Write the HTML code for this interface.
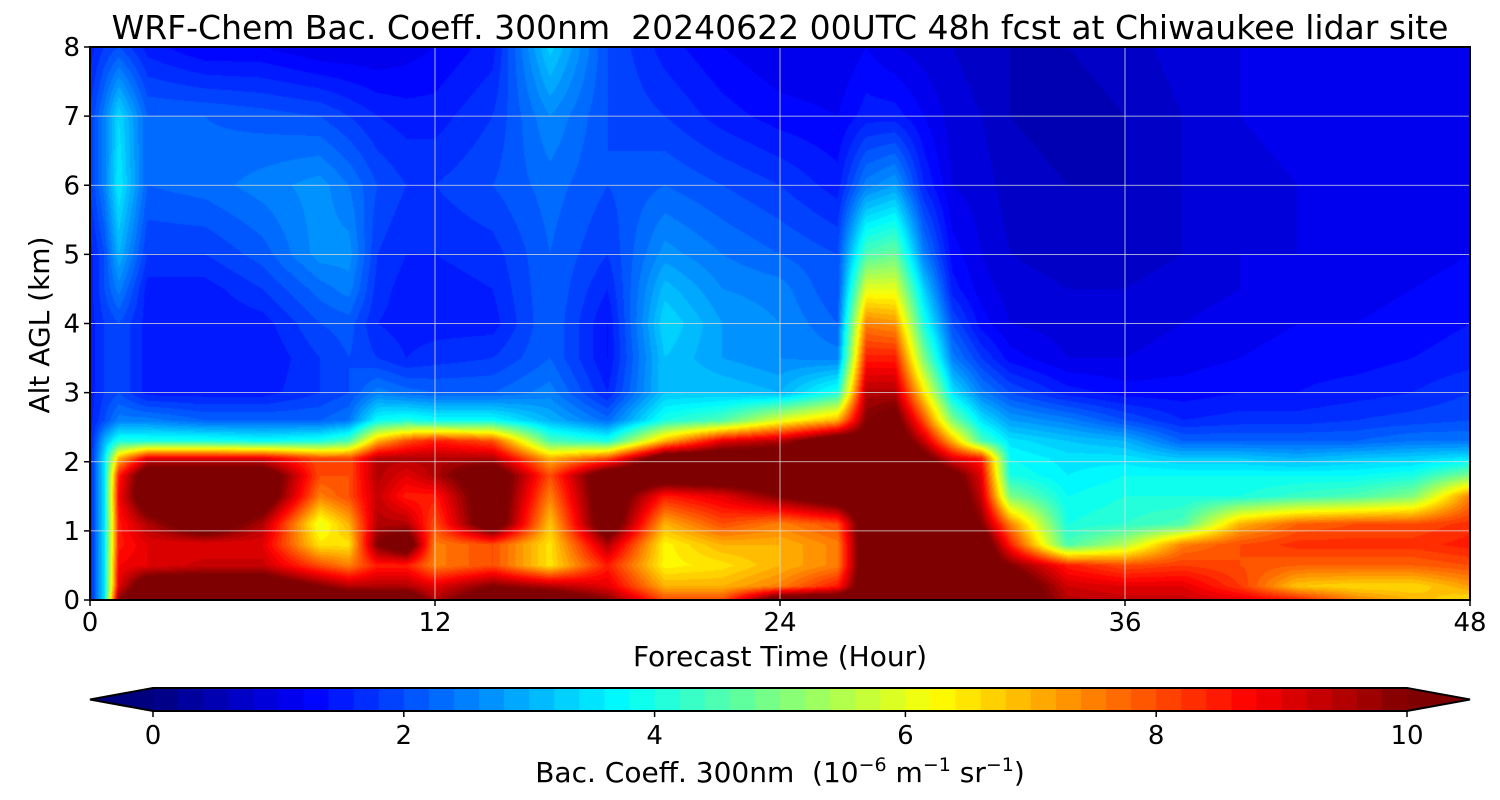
<!DOCTYPE html>
<html><head><meta charset="utf-8">
<style>
body{margin:0;background:#fff;width:1500px;height:800px;overflow:hidden;font-family:"DejaVu Sans","Liberation Sans",sans-serif;}
#wrap{position:relative;width:1500px;height:800px;}
canvas{position:absolute;}
svg{position:absolute;left:0;top:0;font-family:"DejaVu Sans","Liberation Sans",sans-serif;}
text{white-space:pre;}
</style></head><body>
<div id="wrap">
<canvas id="plot" width="1380" height="553" style="left:90px;top:47px"></canvas>
<svg id="ov" width="1500" height="800"></svg>
</div>
<script>
const times=[0,0.5,1,2,4,6,8,9,10,11,12,14,16,18,20,22,24,26,27,28,29,30,31,32,34,36,38,40,42,44,46,48];
const alts=[0,0.2,0.5,0.8,1.1,1.5,1.8,2.05,2.3,2.6,3,3.5,4,4.5,5,6,7,8];
const values=[
[1.5,1.5,1.5,1.5,1.5,1.5,1.5,1.5,1.5,1.5,1.5,1.5,1.5,1.5,1.5,1.8,1.8,1.5],
[3.5,3.5,3.5,3.5,3.5,3.5,3.5,3.5,3,2,1.8,1.8,1.8,2,2,2.5,2.5,1.8],
[10,9,8.8,8.5,8.5,8.8,8.5,7,4,2.5,2,2,2,2.5,3,3.6,3.4,2],
[11,11,9,9,9.5,11,11,9,4,2.5,1.5,1.5,1.5,1.5,1.8,2.2,2.2,1.5],
[11,11,9.3,9,11,11,11,9,4,2.2,1.5,1.4,1.4,1.5,1.8,2.3,2.2,1.2],
[11,11,9.3,9,9.5,11,11,9,3.8,2.2,1.5,1.4,1.5,1.8,2.1,2.5,2.1,1.2],
[11,10,8,6.5,6,7.5,8,8,4,2.2,1.8,1.8,2,2.3,2.7,2.7,2,1],
[11,9.5,7.5,6.5,7,8,8,8,4.5,2.4,2,2,2.1,2.5,2.7,2.4,1.8,1],
[11,9.5,8.5,10,9.5,9.3,9.5,9.5,7,3.8,2.5,1.8,1.6,1.7,1.8,2,1.6,1],
[11,9.5,8.5,11,9.5,8.5,9,9.5,8,4,2.3,1.6,1.5,1.5,1.6,1.8,1.5,1.1],
[9.5,9,7.5,7.5,8,8.5,9.5,9.5,8.5,3.8,2.2,1.7,1.5,1.5,1.6,1.8,1.5,1.2],
[11,10,8,8,11,11,11,9.5,8,3.8,2.2,1.8,1.5,1.6,1.7,2,1.8,1.5],
[11,9.5,6.5,6.5,6.8,7.5,8,7,4.5,3,2.5,2.2,2.2,2.2,2.2,2.3,2.6,3.3],
[10,9,8.5,9.5,11,11,11,8,4,2.3,1.6,1.4,1.4,1.6,1.8,2,2,2],
[8,7,6.3,6.3,7,8.5,11,11,7,4,3.2,3.2,3.4,3.1,2.7,2.2,1.8,1.5],
[8,7,6.5,7,8,9,11,11,9,4.5,3.2,2.8,2.8,2.6,2.4,2,1.5,1.2],
[11,7.5,7,7,7.5,10,11,11,9.5,6,3,2.6,2.6,2.5,2.2,1.8,1.3,1],
[11,8.5,7.5,7.5,8,11,11,11,11,7,4,2.5,2.2,2,2,1.5,1.2,1],
[11,11,11,11,11,11,11,11,10.5,10,9.5,8.5,7.5,6,4.5,2.5,1.5,1.2],
[11,11,11,11,11,11,11,11,11,10.5,9.5,8.5,7.3,6,4.8,2.8,1.5,1],
[11,11,11,11,11,11,11,10.5,9.3,8,6.5,5,4,3.3,2.5,1.6,1.2,0.9],
[11,11,11,11,11,11,10.5,9,7,5,3.5,2.5,2,1.5,1.3,1,0.9,0.8],
[11,11,11,11,10,9.3,9,8.5,4.5,3.5,2.5,1.8,1.3,1.1,1,0.9,0.8,0.7],
[11,11,10,8.5,7.5,5,4,3.8,3.5,2.8,2,1.3,1,0.9,0.8,0.7,0.6,0.6],
[9.5,9.2,8.5,4.5,4,3.8,3.6,3.5,3.2,2.5,1.5,1,0.9,0.8,0.7,0.6,0.5,0.6],
[9.3,9,8,5.5,4.2,4,3.8,3.5,3,2,1.3,1,0.9,0.8,0.7,0.6,0.6,0.7],
[9.3,9,8.2,7.5,4.5,4,3.8,3.2,2.2,1.6,1.3,1.1,1,0.9,0.8,0.8,0.8,0.9],
[9,8.2,8,8,7,4,3.8,3.2,2.2,1.7,1.4,1.2,1.1,1,1,0.9,1,1],
[8.5,6.8,7.8,8.3,7.8,4.3,3.8,3,2.2,1.7,1.4,1.3,1.2,1.1,1,1,1.1,1.1],
[7.5,6.6,7.8,8.3,8,4.5,3.8,3.2,2.2,1.8,1.5,1.3,1.2,1.1,1.1,1,1.1,1.1],
[7,6.6,7.8,8.3,8,5,4,3.3,2.4,1.9,1.6,1.4,1.3,1.2,1.1,1.1,1.1,1.1],
[6.5,7.2,8,8.5,8.3,7.5,5,3.5,2.4,2,1.8,1.5,1.4,1.3,1.2,1.2,1.2,1.2]];
const xTicks=[0,12,24,36,48];
const yTicks=[0,1,2,3,4,5,6,7,8];
const cbTicks=[0,2,4,6,8,10];

const X0=90,X1=1470,Y0=600,Y1=47;
const xs=t=>X0+(t-0)/48*(X1-X0);
const ys=a=>Y0-(a/8)*(Y0-Y1);
const CB0=153,CB1=1407;
const cbx=v=>CB0+v/10*(CB1-CB0);

function jet(v){
  const c=x=>Math.max(0,Math.min(1,x));
  const r=c(1.5-Math.abs(4*v-3)), g=c(1.5-Math.abs(4*v-2)), b=c(1.5-Math.abs(4*v-1));
  return [r*255|0,g*255|0,b*255|0];
}
function lvlColor(v){
  let q=Math.floor(v/0.2);
  const f=q<0?0:q>49?1:(q+0.5)/50;
  return jet(f);
}
function idx(arr,v){let i=0;while(i<arr.length-2&&arr[i+1]<v)i++;return i;}
function sample(t,a){
  const i=idx(times,t),j=idx(alts,a);
  const ft=Math.max(0,Math.min(1,(t-times[i])/(times[i+1]-times[i])));
  const fa=Math.max(0,Math.min(1,(a-alts[j])/(alts[j+1]-alts[j])));
  const v00=values[i][j],v10=values[i+1][j],v01=values[i][j+1],v11=values[i+1][j+1];
  return (v00*(1-ft)+v10*ft)*(1-fa)+(v01*(1-ft)+v11*ft)*fa;
}
const cv=document.getElementById('plot'),ctx=cv.getContext('2d');
const W=cv.width,H=cv.height,img=ctx.createImageData(W,H);
for(let y=0;y<H;y++){const a=8-(y+0.5)/H*8;
 for(let x=0;x<W;x++){const t=(x+0.5)/W*48;
  const c=lvlColor(sample(t,a));const k=(y*W+x)*4;
  img.data[k]=c[0];img.data[k+1]=c[1];img.data[k+2]=c[2];img.data[k+3]=255;}}
ctx.putImageData(img,0,0);

const NS='http://www.w3.org/2000/svg',ov=document.getElementById('ov');
function el(tag,attrs,txt){const e=document.createElementNS(NS,tag);for(const k in attrs)e.setAttribute(k,attrs[k]);if(txt!==undefined)e.textContent=txt;ov.appendChild(e);return e;}
xTicks.forEach(t=>{const g=el('line',{x1:xs(t),x2:xs(t),y1:Y1,y2:Y0,stroke:'#ddd','stroke-width':0.8});

});
yTicks.forEach(a=>{const g=el('line',{x1:X0,x2:X1,y1:ys(a),y2:ys(a),stroke:'#ddd','stroke-width':0.8});

});
const fr=el('rect',{x:X0,y:Y1,width:X1-X0,height:Y0-Y1,fill:'none',stroke:'#000','stroke-width':2});


xTicks.forEach(t=>{el('line',{x1:xs(t),x2:xs(t),y1:Y0,y2:Y0+6,stroke:'#000','stroke-width':1.5});
const l=el('text',{x:xs(t),y:Y0+31,'font-size':26,'text-anchor':'middle'},String(t));

});
yTicks.forEach(a=>{el('line',{x1:X0-6,x2:X0,y1:ys(a),y2:ys(a),stroke:'#000','stroke-width':1.5});
const l=el('text',{x:X0-10,y:ys(a)+9,'font-size':26,'text-anchor':'end'},String(a));

});
let e=el('text',{x:780,y:39,'font-size':33,'text-anchor':'middle'},'WRF-Chem Bac. Coeff. 300nm  20240622 00UTC 48h fcst at Chiwaukee lidar site');

e=el('text',{x:780,y:666,'font-size':28,'text-anchor':'middle'},'Forecast Time (Hour)');

e=el('text',{x:49,y:325,'font-size':28,'text-anchor':'middle',transform:'rotate(-90 49 325)'},'Alt AGL (km)');

const CY0=688,CY1=711;
for(let q=0;q<50;q++){const c=jet((q+0.5)/50);
 const r=el('rect',{x:cbx(q*0.2),y:CY0,width:cbx(0.2)-cbx(0)+0.6,height:CY1-CY0,fill:`rgb(${c})`});
 
 }
let c0=jet(0),c1=jet(1);
e=el('polygon',{points:`${CB0},${CY0} 90,${(CY0+CY1)/2} ${CB0},${CY1}`,fill:`rgb(${c0})`});

e=el('polygon',{points:`${CB1},${CY0} 1470,${(CY0+CY1)/2} ${CB1},${CY1}`,fill:`rgb(${c1})`});

e=el('polygon',{points:`90,${(CY0+CY1)/2} ${CB0},${CY0} ${CB1},${CY0} 1470,${(CY0+CY1)/2} ${CB1},${CY1} ${CB0},${CY1}`,fill:'none',stroke:'#000','stroke-width':2});

cbTicks.forEach(v=>{el('line',{x1:cbx(v),x2:cbx(v),y1:CY1,y2:CY1+6,stroke:'#000','stroke-width':1.5});
const l=el('text',{x:cbx(v),y:CY1+33,'font-size':26,'text-anchor':'middle'},String(v));

});
e=el('text',{x:780,y:782,'font-size':28,'text-anchor':'middle'});
e.innerHTML='Bac. Coeff. 300nm  (10<tspan dy="-11" font-size="19">−6</tspan><tspan dy="11"> m</tspan><tspan dy="-11" font-size="19">−1</tspan><tspan dy="11"> sr</tspan><tspan dy="-11" font-size="19">−1</tspan><tspan dy="11">)</tspan>';

</script>
</body></html>
